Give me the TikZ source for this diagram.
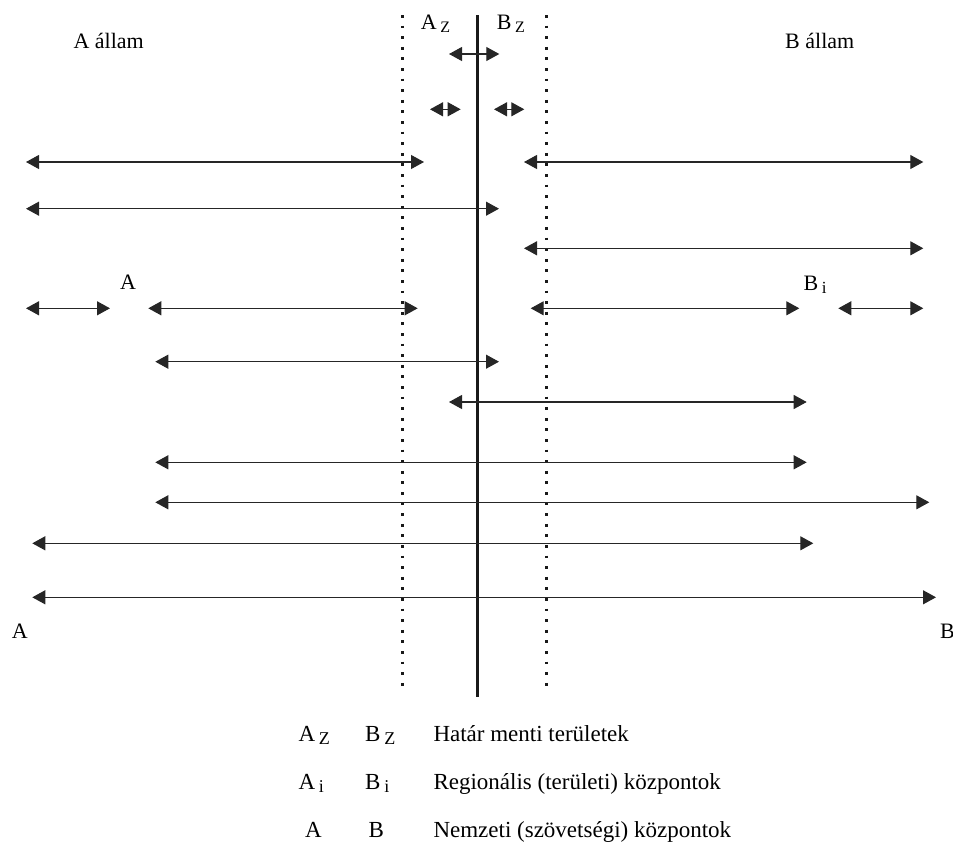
\documentclass[tikz,border=0pt]{standalone}
\usepackage{fontspec}
\setmainfont{Liberation Serif}
\usetikzlibrary{arrows.meta}
\tikzset{
  dbl/.style={line width=1.1pt, draw=black!85, {Triangle[length=13pt,width=14pt]}-{Triangle[length=13pt,width=14pt]}},
  border/.style={line width=2.7pt, draw=black!90},
  zone/.style={line width=2.8pt, draw=black!90, dash pattern=on 2.8pt off 7.8pt},
  lbl/.style={inner sep=0pt, anchor=base west, font=\fontsize{22}{25}\selectfont},
  leg/.style={inner sep=0pt, anchor=base west, font=\fontsize{23}{27}\selectfont},
}
\newcommand{\subsc}[2]{\raisebox{-3pt}{\fontsize{#1}{#1}\selectfont #2}}
\begin{document}
\begin{tikzpicture}[x=1pt,y=-1pt]
\useasboundingbox (0,0) rectangle (953,846);
% vertical lines
\coordinate (zlt) at (402.3,15); \coordinate (zlb) at (402.3,693);
\coordinate (zrt) at (546.7,15); \coordinate (zrb) at (546.7,693);
\coordinate (bt) at (477.7,15);  \coordinate (bb) at (477.7,697);
\draw[zone] (zlt) -- (zlb);
\draw[zone] (zrt) -- (zrb);
\draw[border] (bt) -- (bb);
% labels
\node[lbl] (aall) at (73.3,48.3) {A állam};
\node[lbl] (ball) at (785,48.3) {B állam};
\node[lbl] (az) at (420.7,29.3) {A\,\subsc{16}{Z}};
\node[lbl] (bz) at (496.7,29.3) {B\,\subsc{16}{Z}};
\node[lbl] (ai) at (120,289.3) {A};
\node[lbl] (bi) at (803.3,290) {B\,\subsc{17}{i}};
\node[lbl] (an) at (11.7,638) {A};
\node[lbl] (bn) at (940,638) {B};
% arrow end points
\coordinate (r0a) at (449,54);    \coordinate (r0b) at (499.3,54);
\coordinate (s1a) at (430,109.3); \coordinate (s1b) at (460.7,109.3);
\coordinate (s2a) at (494,109.3); \coordinate (s2b) at (524.3,109.3);
\coordinate (r1a) at (26,162);    \coordinate (r1b) at (424,162);
\coordinate (r1c) at (524,162);   \coordinate (r1d) at (923.3,162);
\coordinate (r2a) at (26,208.7);  \coordinate (r2b) at (499,208.7);
\coordinate (r3a) at (524,248.3); \coordinate (r3b) at (923.3,248.3);
\coordinate (r4a) at (26,308.3);  \coordinate (r4b) at (110,308.3);
\coordinate (r4c) at (148.3,308.3); \coordinate (r4d) at (417.7,308.3);
\coordinate (r4e) at (530.7,308.3); \coordinate (r4f) at (799.3,308.3);
\coordinate (r4g) at (838.3,308.3); \coordinate (r4h) at (923.3,308.3);
\coordinate (r5a) at (155.3,361.7); \coordinate (r5b) at (499,361.7);
\coordinate (r6a) at (449,402);   \coordinate (r6b) at (806.7,402);
\coordinate (r7a) at (155.3,462.3); \coordinate (r7b) at (806.7,462.3);
\coordinate (r8a) at (155.3,502.3); \coordinate (r8b) at (929.3,502.3);
\coordinate (r9a) at (32.3,543.3); \coordinate (r9b) at (813.3,543.3);
\coordinate (r10a) at (32.3,597.3); \coordinate (r10b) at (936,597.3);
% arrows
\draw[dbl] (r0a) -- (r0b);
\draw[dbl] (s1a) -- (s1b);
\draw[dbl] (s2a) -- (s2b);
\draw[dbl] (r1a) -- (r1b);
\draw[dbl] (r1c) -- (r1d);
\draw[dbl] (r2a) -- (r2b);
\draw[dbl] (r3a) -- (r3b);
\draw[dbl] (r4a) -- (r4b);
\draw[dbl] (r4c) -- (r4d);
\draw[dbl] (r4e) -- (r4f);
\draw[dbl] (r4g) -- (r4h);
\draw[dbl] (r5a) -- (r5b);
\draw[dbl] (r6a) -- (r6b);
\draw[dbl] (r7a) -- (r7b);
\draw[dbl] (r8a) -- (r8b);
\draw[dbl] (r9a) -- (r9b);
\draw[dbl] (r10a) -- (r10b);
% legend
\node[leg] (l1a) at (298.3,741.7) {A\,\subsc{18}{Z}};
\node[leg] (l1b) at (365,741.7) {B\,\subsc{18}{Z}};
\node[leg] (l1t) at (433.3,741.7) {Határ menti területek};
\node[leg] (l2a) at (298.3,789.5) {A\,\subsc{18}{i}};
\node[leg] (l2b) at (365,789.5) {B\,\subsc{18}{i}};
\node[leg] (l2t) at (433.3,789.5) {Regionális (területi) központok};
\node[leg] (l3a) at (305,837) {A};
\node[leg] (l3b) at (368.3,837) {B};
\node[leg] (l3t) at (433.3,837) {Nemzeti (szövetségi) központok};
\end{tikzpicture}
\end{document}
